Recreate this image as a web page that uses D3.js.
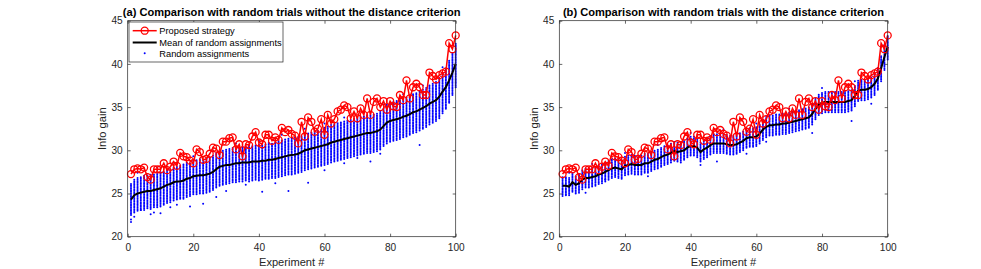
<!DOCTYPE html>
<html>
<head>
<meta charset="utf-8">
<script src="https://cdn.jsdelivr.net/npm/d3@7"></script>
<style>
body { margin: 0; background: #fff; }
svg { display: block; font-family: "Liberation Sans", Arial, Helvetica, sans-serif; }
</style>
</head>
<body>
<div id="chart"></div>
<script>
// experiment index on the x axis
const experiments = d3.range(1, 101);

// proposed strategy (same in both panels)
const proposed = [27.25,27.8,27.9,27.8,28.0,26.9,26.6,27.8,27.8,27.8,
  28.5,27.7,28.1,28.7,28.2,29.7,29.3,29.2,28.8,28.5,
  30.1,29.8,28.9,29.0,29.6,30.3,30.2,29.45,31.0,31.0,
  31.4,31.5,30.1,30.7,29.3,30.7,30.6,31.6,32.1,30.9,
  30.7,31.8,31.8,31.1,31.5,31.2,32.6,32.1,32.35,31.9,
  31.7,30.8,33.3,31.6,33.8,33.3,32.15,32.5,33.6,31.8,
  34.1,33.1,33.6,34.5,34.7,35.2,35.0,33.7,34.5,33.7,
  34.85,34.1,36.0,34.1,35.6,36.0,35.0,35.7,34.7,35.7,
  35.1,35.0,36.4,35.8,38.1,36.0,37.3,37.7,37.3,36.4,
  36.4,39.0,38.6,38.2,38.7,38.9,39.1,42.4,41.7,43.3];

// (a) without the distance criterion
const meanA = [24.3,24.8,25.0,25.1,25.2,25.3,25.3,25.4,25.5,25.6,
  25.8,26.0,26.1,26.3,26.4,26.4,26.5,26.7,26.8,27.0,
  27.05,27.1,27.1,27.2,27.3,27.5,27.8,28.1,28.2,28.3,
  28.3,28.4,28.5,28.5,28.6,28.6,28.6,28.7,28.7,28.7,
  28.8,28.8,28.9,28.9,29.0,29.1,29.2,29.3,29.4,29.45,
  29.5,29.6,29.8,30.0,30.1,30.2,30.3,30.4,30.5,30.6,
  30.7,30.9,31.0,31.1,31.2,31.3,31.4,31.5,31.6,31.7,
  31.8,31.9,32.0,32.0,32.1,32.2,32.4,32.8,33.2,33.4,
  33.5,33.6,33.7,33.9,34.0,34.2,34.4,34.5,34.7,34.9,
  35.1,35.4,35.6,35.8,36.2,36.8,37.3,38.1,39.0,40.0];
const lowA = [22.5,22.8,23.0,23.1,23.1,23.3,23.2,23.4,23.4,23.5,
  23.7,23.9,24.0,24.2,24.3,24.4,24.4,24.6,24.7,24.9,
  24.9,25.0,25.0,25.1,25.2,25.4,25.7,25.9,26.0,26.1,
  26.2,26.3,26.3,26.4,26.4,26.5,26.4,26.5,26.6,26.5,
  26.6,26.7,26.7,26.8,26.8,26.9,27.0,27.1,27.2,27.2,
  27.3,27.4,27.5,27.7,27.8,27.9,28.0,28.1,28.2,28.3,
  28.4,28.6,28.7,28.8,28.9,29.0,29.1,29.2,29.3,29.4,
  29.5,29.6,29.7,29.7,29.8,29.9,30.1,30.5,30.8,31.0,
  31.1,31.2,31.3,31.5,31.6,31.8,32.0,32.1,32.3,32.5,
  32.7,33.0,33.2,33.4,33.7,34.3,34.8,35.5,36.4,37.3];
const highA = [26.2,26.6,26.8,26.9,27.1,27.1,27.2,27.2,27.4,27.5,
  27.6,27.8,27.9,28.1,28.2,28.3,28.4,28.6,28.6,28.9,
  28.9,29.0,28.9,29.1,29.2,29.4,29.7,29.9,30.1,30.2,
  30.2,30.3,30.4,30.4,30.5,30.5,30.6,30.6,30.6,30.7,
  30.7,30.8,30.9,30.9,31.0,31.1,31.2,31.3,31.4,31.5,
  31.5,31.6,31.8,32.0,32.1,32.2,32.3,32.4,32.5,32.7,
  32.8,33.0,33.1,33.2,33.3,33.4,33.5,33.6,33.7,33.8,
  33.9,34.0,34.1,34.1,34.2,34.3,34.5,34.9,35.3,35.6,
  35.7,35.8,35.9,36.1,36.2,36.4,36.6,36.7,36.9,37.1,
  37.3,37.6,37.8,38.0,38.5,39.1,39.6,40.5,41.4,42.5];
const strayA = [[1,21.7],[1,22.0],[2,22.3],[4,23.1],[7,22.6],[8,22.8],[10,22.7],
  [13,23.4],[15,23.7],[19,23.5],[23,23.8],[27,24.6],[30,25.3],[36,26.0],[41,25.2],
  [45,26.2],[49,25.3],[55,26.25],[60,27.7],[66,28.5],[70,29.1],[74,28.7],[77,29.6],[89,30.6],
  [3,27.4],[9,28.0],[14,28.6],[20,29.3],[26,29.9],[33,30.8],[40,31.1],[47,31.8],
  [54,32.5],[60,33.1],[66,33.8],[72,34.4],[78,35.3],[84,36.5],[90,37.5],[96,39.6]];

// (b) with the distance criterion
const meanB = [25.9,25.9,25.8,26.3,26.0,26.2,26.6,26.8,26.8,26.9,
  27.0,27.2,27.3,27.5,27.7,27.9,28.0,27.9,27.8,28.2,
  28.3,28.4,28.3,28.3,28.3,28.5,28.5,28.7,28.9,29.0,
  29.2,29.4,29.5,29.7,29.9,29.8,29.9,30.0,30.3,30.5,
  30.5,30.3,29.8,30.1,30.3,30.6,30.8,30.8,30.8,30.8,
  30.7,30.6,30.6,30.7,30.9,31.1,31.4,31.5,31.5,31.6,
  31.9,32.4,32.7,32.9,32.9,33.0,33.0,33.1,33.1,33.2,
  33.3,33.4,33.5,33.6,33.7,33.8,34.2,34.8,35.3,35.5,
  35.6,35.6,35.6,35.6,35.6,35.6,35.6,35.7,35.8,36.3,
  36.9,37.0,37.0,37.1,37.3,37.7,38.3,39.5,40.8,42.0];
const lowB = [24.9,24.9,24.8,25.2,25.0,25.1,25.5,25.7,25.7,25.8,
  25.9,26.1,26.2,26.4,26.6,26.8,26.9,26.8,26.7,27.1,
  27.2,27.3,27.2,27.2,27.2,27.4,27.4,27.6,27.8,27.9,
  28.1,28.3,28.4,28.6,28.8,28.7,28.8,28.9,29.2,29.4,
  29.4,29.2,28.7,29.0,29.2,29.5,29.7,29.7,29.7,29.7,
  29.6,29.5,29.5,29.6,29.8,30.0,30.3,30.4,30.4,30.5,
  30.8,31.2,31.5,31.7,31.7,31.8,31.8,31.9,31.9,32.0,
  32.1,32.2,32.3,32.4,32.5,32.6,33.0,33.6,34.1,34.3,
  34.4,34.4,34.4,34.4,34.4,34.4,34.4,34.5,34.6,35.1,
  35.7,35.8,35.8,35.9,36.1,36.4,37.0,38.0,39.3,40.5];
const highB = [27.0,27.0,26.9,27.4,27.1,27.3,27.7,27.9,27.9,28.0,
  28.1,28.3,28.4,28.6,28.8,29.0,29.1,29.0,28.9,29.3,
  29.4,29.5,29.4,29.4,29.4,29.6,29.6,29.8,30.0,30.1,
  30.3,30.5,30.6,30.8,31.0,30.9,31.0,31.1,31.4,31.6,
  31.6,31.4,30.9,31.2,31.4,31.7,31.9,31.9,31.9,31.9,
  31.8,31.7,31.7,31.8,32.0,32.2,32.5,32.6,32.6,32.7,
  33.0,33.6,33.9,34.1,34.1,34.2,34.2,34.3,34.3,34.4,
  34.5,34.6,34.7,34.8,34.9,35.0,35.4,36.0,36.5,36.7,
  36.8,36.8,36.8,36.8,36.8,36.8,36.8,36.9,37.0,37.5,
  38.1,38.2,38.2,38.3,38.5,39.0,39.6,41.0,42.3,43.3];
const strayB = [[1,24.7],[2,24.8],[8,25.1],[14,26.6],[27,27.0],[37,28.6],[43,28.3],[48,28.7],
  [57,29.6],[63,31.0],[77,32.0],[89,33.4],[95,35.4],[3,27.4],[10,28.4],[20,29.7],
  [30,30.6],[40,32.0],[50,32.4],[60,33.1],[70,34.8],[80,37.2],[90,38.0]];

const titles = ["(a) Comparison with random trials without the distance criterion",
                "(b) Comparison with random trials with the distance criterion"];
const xTicks = [0, 20, 40, 60, 80, 100];
const yTicks = [20, 25, 30, 35, 40, 45];
const legendLabels = ["Proposed strategy", "Mean of random assignments", "Random assignments"];

const width = 981, height = 269;
const plotTop = 20.7, plotBottom = 236.7;
const axisColor = "#262626";

const svg = d3.select("#chart").append("svg")
    .attr("width", width)
    .attr("height", height);

function drawPanel(x0, x1, title, mean, low, high, stray, withLegend) {
    const x = d3.scaleLinear().domain([0, 100]).range([x0, x1]);
    const y = d3.scaleLinear().domain([20, 45]).range([plotBottom, plotTop]);
    const g = svg.append("g");

    // random trials: column of dots between low and high, plus stray trials
    const dots = [];
    experiments.forEach((e, i) => {
        for (let v = low[i]; v <= high[i] + 1e-6; v += 0.18) dots.push([e, v]);
    });
    stray.forEach(d => dots.push(d));
    g.append("g").selectAll("circle").data(dots).join("circle")
        .attr("cx", d => x(d[0]))
        .attr("cy", d => y(d[1]))
        .attr("r", 1.0)
        .attr("fill", "#0000ff");

    // mean of random assignments
    g.append("path")
        .datum(mean)
        .attr("fill", "none")
        .attr("stroke", "#000")
        .attr("stroke-width", 2)
        .attr("d", d3.line().x((d, i) => x(experiments[i])).y(d => y(d)));

    // proposed strategy
    g.append("path")
        .datum(proposed)
        .attr("fill", "none")
        .attr("stroke", "#ff0000")
        .attr("stroke-width", 1.5)
        .attr("d", d3.line().x((d, i) => x(experiments[i])).y(d => y(d)));
    g.append("g").selectAll("circle").data(proposed).join("circle")
        .attr("cx", (d, i) => x(experiments[i]))
        .attr("cy", d => y(d))
        .attr("r", 3.5)
        .attr("fill", "none")
        .attr("stroke", "#ff0000")
        .attr("stroke-width", 1.3);

    // axes, ticks pointing inward on all four sides
    const styleAxis = sel => {
        sel.select(".domain").remove();
        sel.selectAll("line").attr("stroke", axisColor).attr("stroke-width", 0.7);
        sel.selectAll("text").attr("fill", axisColor)
            .style("font-size", "10.1px")
            .style("font-family", "'Liberation Sans', Arial, Helvetica, sans-serif");
    };
    g.append("g").attr("transform", `translate(0,${plotBottom})`)
        .call(d3.axisBottom(x).tickValues(xTicks).tickSize(-3).tickPadding(7))
        .call(styleAxis);
    g.append("g").attr("transform", `translate(0,${plotTop})`)
        .call(d3.axisTop(x).tickValues(xTicks).tickSize(-3).tickFormat(""))
        .call(styleAxis);
    g.append("g").attr("transform", `translate(${x0},0)`)
        .call(d3.axisLeft(y).tickValues(yTicks).tickSize(-3).tickPadding(5))
        .call(styleAxis);
    g.append("g").attr("transform", `translate(${x1},0)`)
        .call(d3.axisRight(y).tickValues(yTicks).tickSize(-3).tickFormat(""))
        .call(styleAxis);
    g.append("rect")
        .attr("x", x0).attr("y", plotTop)
        .attr("width", x1 - x0).attr("height", plotBottom - plotTop)
        .attr("fill", "none")
        .attr("stroke", axisColor)
        .attr("stroke-width", 0.7);

    // labels
    g.append("text")
        .attr("x", (x0 + x1) / 2).attr("y", 16)
        .attr("text-anchor", "middle")
        .attr("font-weight", "bold")
        .attr("font-size", "11.1px")
        .attr("fill", "#000")
        .text(title);
    g.append("text")
        .attr("x", (x0 + x1) / 2).attr("y", 265.5)
        .attr("text-anchor", "middle")
        .attr("font-size", "11.1px")
        .attr("fill", axisColor)
        .text("Experiment #");
    g.append("text")
        .attr("transform", `translate(${x0 - 21.5},${(plotTop + plotBottom) / 2}) rotate(-90)`)
        .attr("text-anchor", "middle")
        .attr("font-size", "11.1px")
        .attr("fill", axisColor)
        .text("Info gain");

    if (withLegend) {
        const lg = g.append("g");
        lg.append("rect")
            .attr("x", x0 + 1.3).attr("y", 22)
            .attr("width", 154).attr("height", 40)
            .attr("fill", "#fff")
            .attr("stroke", axisColor)
            .attr("stroke-width", 0.7);
        const rows = [30.7, 42.5, 53.3];
        const sx0 = x0 + 5, sx1 = x0 + 29, tx = x0 + 31.6;
        lg.append("line").attr("x1", sx0).attr("x2", sx1).attr("y1", rows[0]).attr("y2", rows[0])
            .attr("stroke", "#ff0000").attr("stroke-width", 1.5);
        lg.append("circle").attr("cx", (sx0 + sx1) / 2).attr("cy", rows[0]).attr("r", 3.5)
            .attr("fill", "none").attr("stroke", "#ff0000").attr("stroke-width", 1.3);
        lg.append("line").attr("x1", sx0).attr("x2", sx1).attr("y1", rows[1]).attr("y2", rows[1])
            .attr("stroke", "#000").attr("stroke-width", 2);
        lg.append("circle").attr("cx", (sx0 + sx1) / 2).attr("cy", rows[2])
            .attr("r", 1.0).attr("fill", "#0000ff");
        lg.selectAll("text").data(legendLabels).join("text")
            .attr("x", tx)
            .attr("y", (d, i) => rows[i])
            .attr("dy", "0.35em")
            .attr("font-size", "9.3px")
            .attr("fill", "#000")
            .text(d => d);
    }
}

drawPanel(127.7, 455.7, titles[0], meanA, lowA, highA, strayA, true);
drawPanel(559.3, 887.7, titles[1], meanB, lowB, highB, strayB, false);
</script>
</body>
</html>
